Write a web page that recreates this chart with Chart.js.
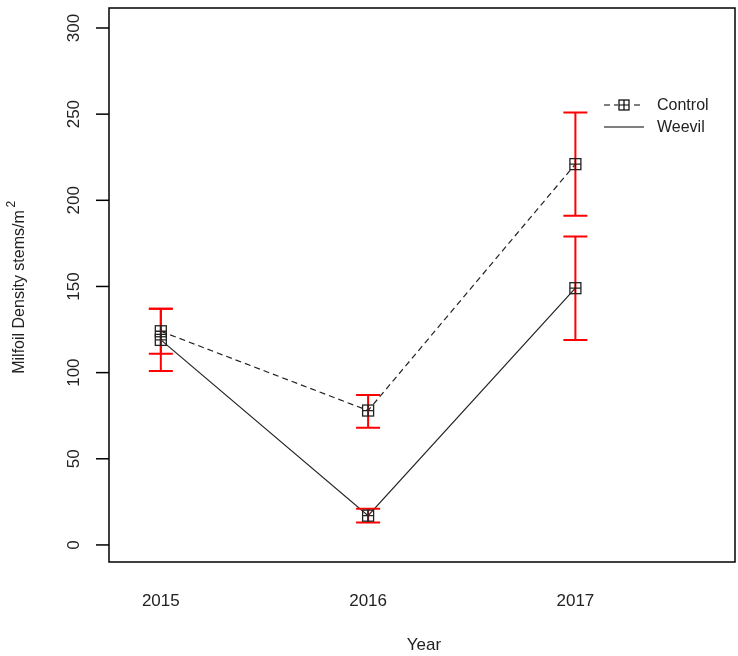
<!DOCTYPE html>
<html>
<head>
<meta charset="utf-8">
<script src="https://cdn.jsdelivr.net/npm/chart.js@4"></script>
<style>
  body { margin: 0; background: #fff; }
  #wrap { width: 738px; height: 656px; }
</style>
</head>
<body>
<div id="wrap"><canvas id="myChart" width="738" height="656"></canvas></div>
<script>
const years = [2015, 2016, 2017];
const controlMean = [124, 78, 221];
const controlLow = [111, 68, 191];
const controlHigh = [137, 87, 251];
const weevilMean = [119, 17, 149];
const weevilLow = [101, 13, 119];
const weevilHigh = [137, 21, 179];
const yTicks = [0, 50, 100, 150, 200, 250, 300];

function pts(vals) {
    return years.map((y, i) => ({ x: y, y: vals[i] }));
}

// error bars, boxed-plus markers, frame, axes labels and legend
const rPlot = {
    id: 'rPlot',
    afterDatasetsDraw(chart) {
        const c = chart.ctx;
        const xs = chart.scales.x, ys = chart.scales.y;
        const a = chart.chartArea;
        c.save();
        // error bars
        c.strokeStyle = '#ff0000';
        c.lineWidth = 2;
        [[controlLow, controlHigh], [weevilLow, weevilHigh]].forEach(([lo, hi]) => {
            years.forEach((yr, i) => {
                const px = xs.getPixelForValue(yr);
                const y1 = ys.getPixelForValue(lo[i]), y2 = ys.getPixelForValue(hi[i]);
                c.beginPath();
                c.moveTo(px, y1); c.lineTo(px, y2);
                c.moveTo(px - 12, y1); c.lineTo(px + 12, y1);
                c.moveTo(px - 12, y2); c.lineTo(px + 12, y2);
                c.stroke();
            });
        });
        // markers
        c.strokeStyle = '#222';
        c.lineWidth = 1.3;
        [controlMean, weevilMean].forEach(vals => {
            years.forEach((yr, i) => {
                const px = xs.getPixelForValue(yr), py = ys.getPixelForValue(vals[i]);
                c.strokeRect(px - 5.5, py - 5.5, 11, 11);
                c.beginPath();
                c.moveTo(px - 5.5, py); c.lineTo(px + 5.5, py);
                c.moveTo(px, py - 5.5); c.lineTo(px, py + 5.5);
                c.stroke();
            });
        });
        // frame
        c.strokeStyle = '#000';
        c.lineWidth = 1.5;
        c.strokeRect(a.left, a.top, a.right - a.left, a.bottom - a.top);
        // y ticks
        c.fillStyle = '#222';
        c.font = '17px Arial, "Liberation Sans", sans-serif';
        c.textAlign = 'center';
        c.textBaseline = 'middle';
        yTicks.forEach(t => {
            const py = ys.getPixelForValue(t);
            c.beginPath();
            c.moveTo(a.left - 13, py); c.lineTo(a.left, py);
            c.stroke();
            c.save();
            c.translate(a.left - 35, py);
            c.rotate(-Math.PI / 2);
            c.fillText(String(t), 0, 0);
            c.restore();
        });
        // x labels
        years.forEach(yr => {
            c.fillText(String(yr), xs.getPixelForValue(yr), 601);
        });
        c.fillText('Year', 424, 645);
        // y title
        c.save();
        c.translate(20, 292);
        c.rotate(-Math.PI / 2);
        c.font = '16px Arial, "Liberation Sans", sans-serif';
        const title = 'Milfoil Density stems/m';
        const w = c.measureText(title).width;
        c.fillText(title, 0, 0);
        c.font = '12px Arial, "Liberation Sans", sans-serif';
        c.fillText('2', w / 2 + 6, -8);
        c.restore();
        // legend
        c.font = '16px Arial, "Liberation Sans", sans-serif';
        c.textAlign = 'left';
        c.lineWidth = 1.2;
        c.setLineDash([6, 4]);
        c.beginPath(); c.moveTo(604, 105); c.lineTo(644, 105); c.stroke();
        c.setLineDash([]);
        c.clearRect(618, 99, 12, 12);
        c.strokeRect(619, 100, 10, 10);
        c.beginPath();
        c.moveTo(619, 105); c.lineTo(629, 105);
        c.moveTo(624, 100); c.lineTo(624, 110);
        c.stroke();
        c.beginPath(); c.moveTo(604, 127); c.lineTo(644, 127); c.stroke();
        c.fillText('Control', 657, 106);
        c.fillText('Weevil', 657, 128);
        c.restore();
    }
};

new Chart(document.getElementById('myChart').getContext('2d'), {
    type: 'line',
    data: {
        datasets: [{
            label: 'Control',
            data: pts(controlMean),
            borderColor: '#222',
            borderWidth: 1.2,
            borderDash: [6, 4],
            pointRadius: 0,
            tension: 0
        }, {
            label: 'Weevil',
            data: pts(weevilMean),
            borderColor: '#222',
            borderWidth: 1.2,
            pointRadius: 0,
            tension: 0
        }]
    },
    options: {
        responsive: false,
        animation: false,
        layout: { padding: { left: 109, top: 8, right: 3, bottom: 94 } },
        plugins: { legend: { display: false }, tooltip: { enabled: false } },
        scales: {
            x: { type: 'linear', min: 2014.75, max: 2017.77, display: false },
            y: { min: -9.9, max: 311.6, display: false }
        }
    },
    plugins: [rPlot]
});
</script>
</body>
</html>
